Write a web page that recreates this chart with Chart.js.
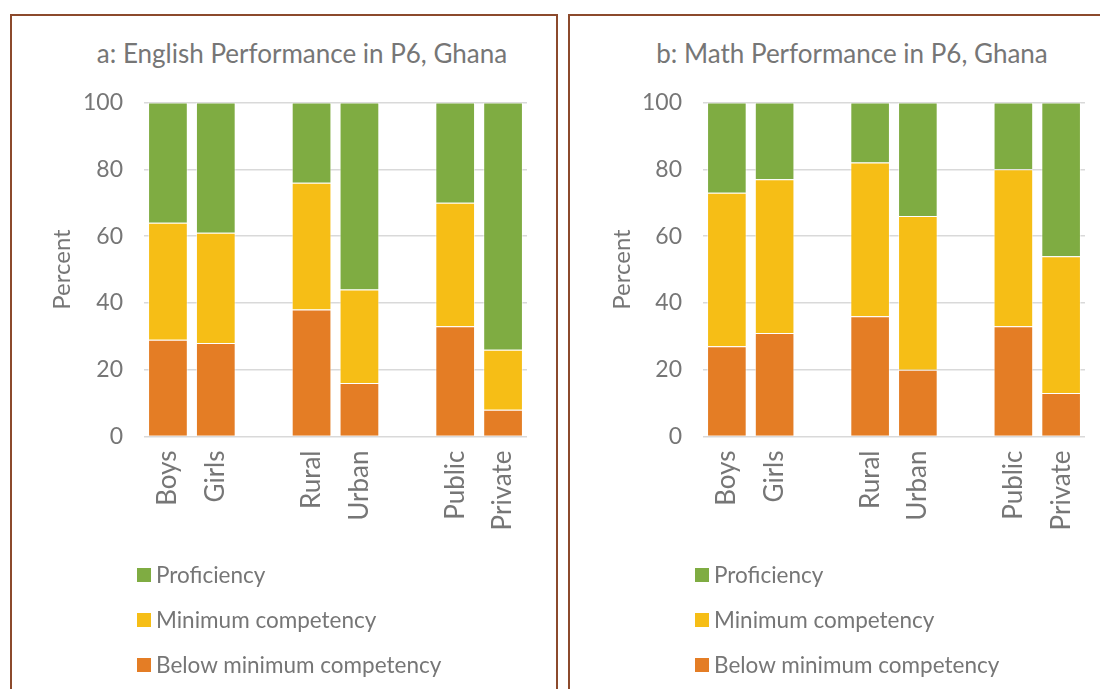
<!DOCTYPE html>
<html>
<head>
<meta charset="utf-8">
<script src="https://cdn.jsdelivr.net/npm/chart.js@4.4.1/dist/chart.umd.min.js"></script>
<style>
  body { margin: 0; background: #fff; width: 1100px; height: 689px; overflow: hidden; position: relative;
         font-family: Lato, "Open Sans", sans-serif; color: #767676; }
  .panel { position: absolute; top: 14px; height: 720px; border: 2px solid #8c4a2c; box-sizing: border-box; }
  .title { position: absolute; top: 35px; font-size: 26px; line-height: 36px; white-space: nowrap; transform: translateX(-50%); }
  canvas { position: absolute; top: 0; }
  .legend { position: absolute; top: 552px; font-size: 22.5px; }
  .legend div { height: 45px; display: flex; align-items: center; }
  .legend .box { width: 14px; height: 14px; margin-right: 5px; display: inline-block; }
</style>
</head>
<body>
<div class="panel" style="left:10px; width:548px;"></div>
<div class="panel" style="left:568px; width:600px;"></div>
<div class="title" style="left:302px;">a: English Performance in P6, Ghana</div>
<div class="title" style="left:852px;">b: Math Performance in P6, Ghana</div>
<canvas id="chartA" width="560" height="560" style="left:0; width:560px; height:560px;"></canvas>
<canvas id="chartB" width="560" height="560" style="left:560px; width:560px; height:560px;"></canvas>
<div class="legend" id="legendA" style="left:137px;"></div>
<div class="legend" id="legendB" style="left:695px;"></div>

<script>
// groups of categories, a blank slot goes between groups
const categories = ['Boys', 'Girls', 'Rural', 'Urban', 'Public', 'Private'];
const seriesNames = ['Below minimum competency', 'Minimum competency', 'Proficiency'];
const seriesColors = ['#e47d25', '#f6be16', '#7fac42'];
const yTicks = [0, 20, 40, 60, 80, 100];

// English, percent
const englishBelow = [29, 28, 38, 16, 33, 8];
const englishMinimum = [35, 33, 38, 28, 37, 18];
const englishProficient = [36, 39, 24, 56, 30, 74];

// Math, percent
const mathBelow = [27, 31, 36, 20, 33, 13];
const mathMinimum = [46, 46, 46, 46, 47, 41];
const mathProficient = [27, 23, 18, 34, 20, 46];

const textColor = '#767676';

// put an empty slot after every second category
function withGaps(arr, blank) {
  const out = [];
  arr.forEach((v, i) => {
    out.push(v);
    if (i % 2 === 1 && i < arr.length - 1) out.push(blank);
  });
  return out;
}

function makeChart(id, series, yWidth, padRight) {
  const ctx = document.getElementById(id).getContext('2d');
  return new Chart(ctx, {
    type: 'bar',
    data: {
      labels: withGaps(categories, ''),
      datasets: series.map((values, i) => ({
        label: seriesNames[i],
        data: withGaps(values, null),
        backgroundColor: seriesColors[i],
        borderColor: 'rgba(255,255,255,0.55)',
        borderWidth: 1,
        barPercentage: 0.83,
        categoryPercentage: 1
      }))
    },
    options: {
      responsive: false,
      animation: false,
      layout: { padding: { top: 102.5, left: 0, right: padRight, bottom: 0 } },
      plugins: { legend: { display: false }, tooltip: { enabled: false } },
      scales: {
        x: {
          stacked: true,
          grid: { display: false, drawTicks: false },
          border: { display: false },
          ticks: {
            color: textColor, autoSkip: false, minRotation: 90, maxRotation: 90, padding: 14,
            font: { family: 'Lato', size: 26 }
          },
          afterFit: s => { s.height = 560 - 436.5; }
        },
        y: {
          stacked: true,
          min: 0, max: 100,
          afterBuildTicks: s => { s.ticks = yTicks.map(v => ({ value: v })); },
          grid: { color: '#d9d9d9', lineWidth: 1.5, drawTicks: false },
          border: { display: false },
          ticks: { color: textColor, padding: 21, font: { family: 'Lato', size: 23 } },
          title: {
            display: true, text: 'Percent', color: textColor,
            font: { family: 'Lato', size: 24 }, padding: { top: 48, bottom: 0 }
          },
          afterFit: s => { s.width = yWidth; }
        }
      }
    }
  });
}

function makeLegend(id) {
  const el = document.getElementById(id);
  for (let i = seriesNames.length - 1; i >= 0; i--) {
    const row = document.createElement('div');
    row.innerHTML = `<span class="box" style="background:${seriesColors[i]}"></span>${seriesNames[i]}`;
    el.appendChild(row);
  }
}

makeChart('chartA', [englishBelow, englishMinimum, englishProficient], 144, 33);
makeChart('chartB', [mathBelow, mathMinimum, mathProficient], 143, 35);
makeLegend('legendA');
makeLegend('legendB');
</script>
</body>
</html>
